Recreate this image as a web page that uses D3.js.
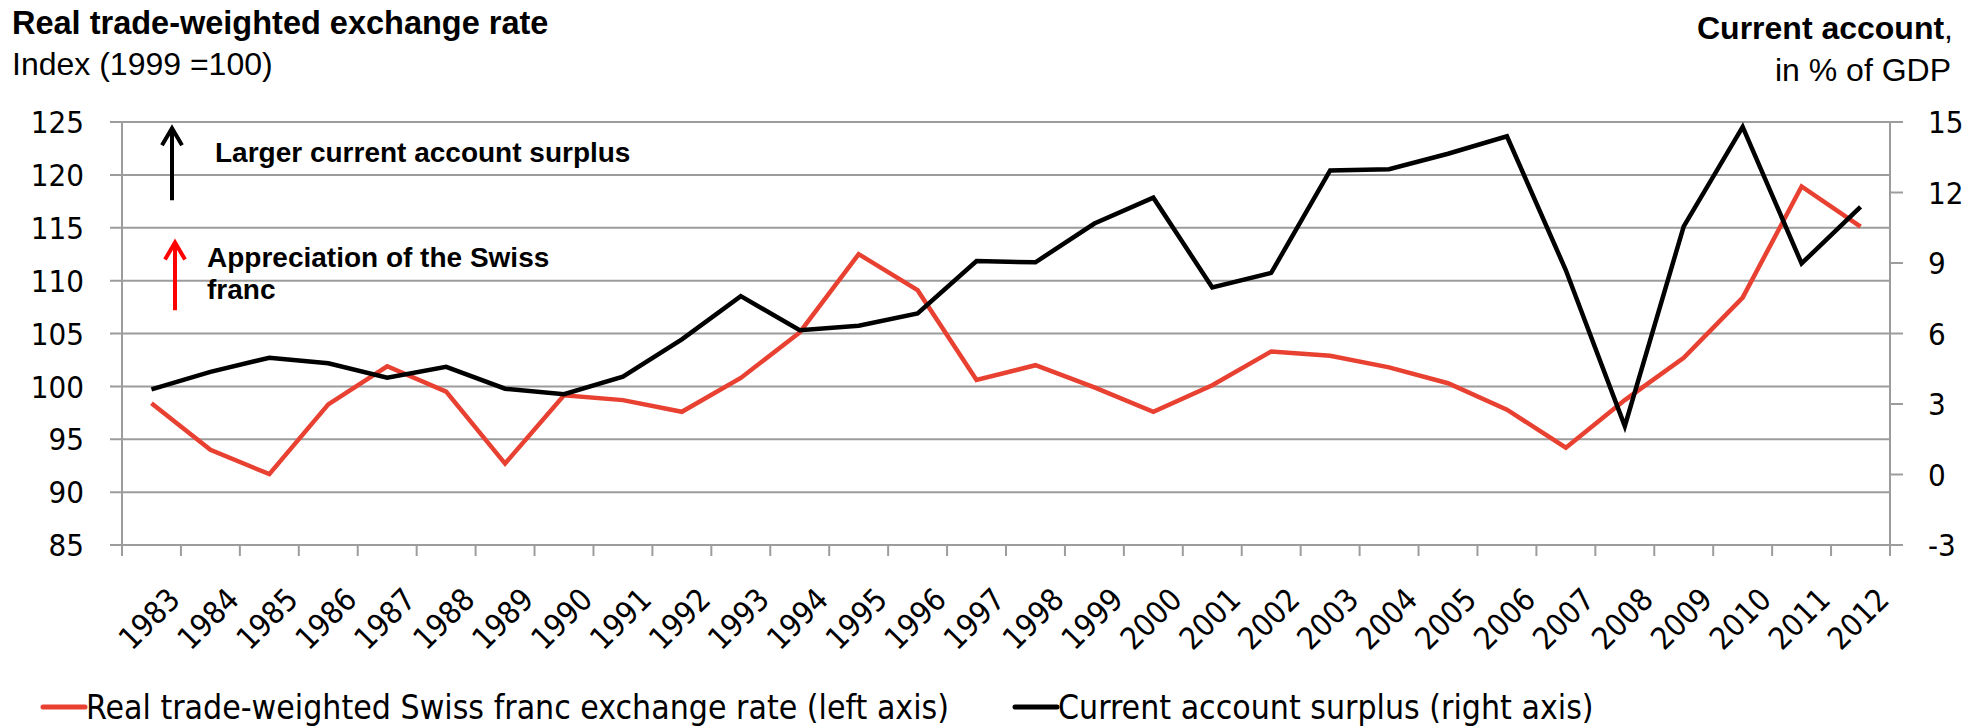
<!DOCTYPE html>
<html>
<head>
<meta charset="utf-8">
<script src="https://cdn.jsdelivr.net/npm/d3@7"></script>
<style>
body { margin: 0; background: #fff; }
svg text { fill: #000; }
</style>
</head>
<body>
<svg id="chart" width="1988" height="728"></svg>
<script>
'use strict';

var years = ['1983','1984','1985','1986','1987','1988','1989','1990','1991','1992',
  '1993','1994','1995','1996','1997','1998','1999','2000','2001','2002',
  '2003','2004','2005','2006','2007','2008','2009','2010','2011','2012'];

// real trade-weighted CHF, index 1999=100 (left axis)
var fxRate = [98.4, 94.0, 91.7, 98.3, 101.9, 99.5, 92.7, 99.15, 98.7, 97.6,
  100.8, 105.1, 112.5, 109.1, 100.6, 102.0, 99.9, 97.6, 100.1, 103.3,
  102.9, 101.8, 100.3, 97.8, 94.2, 98.7, 102.7, 108.4, 118.9, 115.1];

// current account, % of GDP (right axis)
var currAcc = [3.62, 4.37, 4.97, 4.73, 4.12, 4.58, 3.65, 3.42, 4.16, 5.75,
  7.59, 6.14, 6.33, 6.85, 9.08, 9.03, 10.68, 11.78, 7.96, 8.58,
  12.94, 12.99, 13.65, 14.39, 8.69, 2.06, 10.56, 14.79, 8.98, 11.39];

var leftTicks = [85, 90, 95, 100, 105, 110, 115, 120, 125];
var rightTicks = [-3, 0, 3, 6, 9, 12, 15];

var numFont = '"DejaVu Sans Condensed", "DejaVu Sans", sans-serif';
var arial = '"Liberation Sans", Arial, sans-serif';
var grey = '#9c9c9c';
var redCol = '#e84132';

var svg = d3.select('#chart');

var pLeft = 122, pRight = 1890, pTop = 122, pBottom = 545;

var x = d3.scaleBand().domain(years).range([pLeft, pRight]);
var yL = d3.scaleLinear().domain([85, 125]).range([pBottom, pTop]);
var yR = d3.scaleLinear().domain([-3, 15]).range([pBottom, pTop]);

// gridlines + left ticks
svg.append('g').selectAll('line').data(leftTicks).enter().append('line')
  .attr('x1', pLeft - 12).attr('x2', pRight)
  .attr('y1', function (d) { return yL(d); }).attr('y2', function (d) { return yL(d); })
  .style('stroke', grey).style('stroke-width', 2);

svg.append('g').selectAll('text').data(leftTicks).enter().append('text')
  .attr('x', pLeft - 38).attr('y', function (d) { return yL(d); })
  .attr('dy', '0.36em').attr('text-anchor', 'end')
  .style('font-family', numFont).style('font-size', '31px')
  .text(function (d) { return d; });

// left and right axis lines
svg.append('line').attr('x1', pLeft).attr('x2', pLeft).attr('y1', pTop).attr('y2', pBottom + 11)
  .style('stroke', grey).style('stroke-width', 2);
svg.append('line').attr('x1', pRight).attr('x2', pRight).attr('y1', pTop).attr('y2', pBottom + 11)
  .style('stroke', grey).style('stroke-width', 2);

// right ticks
svg.append('g').selectAll('line').data(rightTicks).enter().append('line')
  .attr('x1', pRight).attr('x2', pRight + 13)
  .attr('y1', function (d) { return yR(d); }).attr('y2', function (d) { return yR(d); })
  .style('stroke', grey).style('stroke-width', 2);

svg.append('g').selectAll('text').data(rightTicks).enter().append('text')
  .attr('x', pRight + 38).attr('y', function (d) { return yR(d); })
  .attr('dy', '0.36em').attr('text-anchor', 'start')
  .style('font-family', numFont).style('font-size', '31px')
  .text(function (d) { return d; });

// x tick marks between categories
svg.append('g').selectAll('line').data(years).enter().append('line')
  .attr('x1', function (d) { return x(d) + x.bandwidth(); })
  .attr('x2', function (d) { return x(d) + x.bandwidth(); })
  .attr('y1', pBottom).attr('y2', pBottom + 11)
  .style('stroke', grey).style('stroke-width', 2);

// year labels
svg.append('g').selectAll('text').data(years).enter().append('text')
  .attr('transform', function (d) {
    return 'translate(' + (x(d) + x.bandwidth() / 2 + 15) + ',' + (pBottom + 41) + ') rotate(-45)';
  })
  .attr('text-anchor', 'end').attr('dy', '0.7em')
  .style('font-family', numFont).style('font-size', '31px')
  .text(function (d) { return d; });

// series
var lineL = d3.line()
  .x(function (d, i) { return x(years[i]) + x.bandwidth() / 2; })
  .y(function (d) { return yL(d); });
var lineR = d3.line()
  .x(function (d, i) { return x(years[i]) + x.bandwidth() / 2; })
  .y(function (d) { return yR(d); });

svg.append('path').datum(fxRate).attr('d', lineL)
  .style('fill', 'none').style('stroke', redCol).style('stroke-width', 4.5);
svg.append('path').datum(currAcc).attr('d', lineR)
  .style('fill', 'none').style('stroke', '#000').style('stroke-width', 4.5);

// titles
svg.append('text').attr('x', 12).attr('y', 34)
  .style('font-family', arial).style('font-size', '32.5px').style('font-weight', 'bold')
  .text('Real trade-weighted exchange rate');
svg.append('text').attr('x', 12).attr('y', 75)
  .style('font-family', arial).style('font-size', '32px')
  .text('Index (1999 =100)');

var rt = svg.append('text').attr('x', 1953).attr('y', 39).attr('text-anchor', 'end')
  .style('font-family', arial).style('font-size', '32px');
rt.append('tspan').style('font-weight', 'bold').text('Current account');
rt.append('tspan').text(',');
svg.append('text').attr('x', 1951).attr('y', 81).attr('text-anchor', 'end')
  .style('font-family', arial).style('font-size', '32px')
  .text('in % of GDP');

// annotation arrows (shaft + open chevron)
function arrow(xp, yBottom, yTip, color) {
  var path = d3.path();
  path.moveTo(xp, yBottom);
  path.lineTo(xp, yTip + 2);
  path.moveTo(xp - 10, yTip + 18);
  path.lineTo(xp, yTip + 1);
  path.lineTo(xp + 10, yTip + 18);
  svg.append('path').attr('d', path.toString())
    .style('fill', 'none').style('stroke', color).style('stroke-width', 4);
}
arrow(172, yL(117.6), yL(124.5), '#000');
arrow(175, yL(107.2), yL(113.7), '#ff0000');

svg.append('text').attr('x', 215).attr('y', yL(121.2))
  .style('font-family', arial).style('font-size', '28px').style('font-weight', 'bold')
  .text('Larger current account surplus');
svg.append('text').attr('x', 207).attr('y', yL(111.3))
  .style('font-family', arial).style('font-size', '28px').style('font-weight', 'bold')
  .text('Appreciation of the Swiss');
svg.append('text').attr('x', 207).attr('y', yL(108.3))
  .style('font-family', arial).style('font-size', '28px').style('font-weight', 'bold')
  .text('franc');

// legend
var legend = [
  {label: 'Real trade-weighted Swiss franc exchange rate (left axis)', color: redCol, x: 43},
  {label: 'Current account surplus (right axis)', color: '#000', x: 1015}
];
var lg = svg.append('g').selectAll('g').data(legend).enter().append('g')
  .attr('transform', function (d) { return 'translate(' + d.x + ',707)'; });
lg.append('line').attr('x1', 0).attr('x2', 42).attr('y1', 0).attr('y2', 0)
  .style('stroke', function (d) { return d.color; }).style('stroke-width', 5)
  .style('stroke-linecap', 'round');
lg.append('text').attr('x', 43).attr('dy', '0.36em')
  .style('font-family', numFont).style('font-size', '33.5px')
  .text(function (d) { return d.label; });
</script>
</body>
</html>
